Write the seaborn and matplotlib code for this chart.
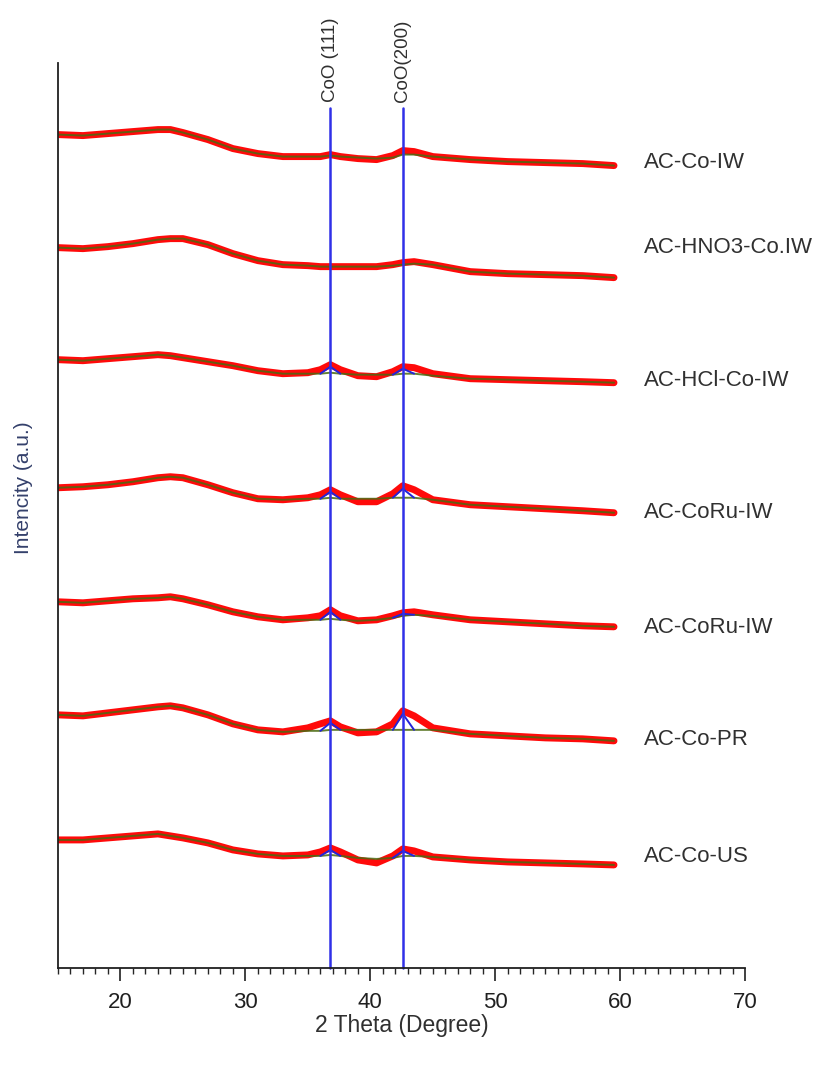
import matplotlib as mpl
import matplotlib.pyplot as plt
import pandas as pd
import seaborn as sns

two_theta = [15, 17, 19, 21, 23, 24, 25, 27, 29, 31, 33, 35, 36, 36.8, 37.6,
             39, 40.5, 41.8, 42.6, 43.5, 45, 48, 51, 54, 57, 59.5]

samples = ["AC-Co-IW", "AC-HNO3-Co.IW", "AC-HCl-Co-IW", "AC-CoRu-IW",
           "AC-CoRu-IW", "AC-Co-PR", "AC-Co-US"]

# measured (red) patterns, already stacked (a.u.)
measured = [
    [833, 832, 834, 836, 838, 838, 835, 828, 819, 814, 811, 811, 811, 813, 811,
     809, 808, 812, 817, 816, 811, 808, 806, 805, 804, 802],
    [720, 719, 721, 724, 728, 729, 729, 723, 714, 707, 703, 702, 701, 701, 701,
     701, 701, 703, 705, 706, 703, 696, 694, 693, 692, 690],
    [608, 607, 609, 611, 613, 612, 610, 606, 602, 597, 594, 595, 598, 603, 598,
     592, 591, 596, 601, 600, 594, 589, 588, 587, 586, 585],
    [480, 481, 483, 486, 490, 491, 490, 483, 475, 469, 468, 470, 473, 478, 473,
     466, 466, 474, 482, 478, 468, 463, 461, 459, 457, 455],
    [366, 365, 367, 369, 370, 371, 369, 363, 356, 351, 348, 350, 352, 358, 352,
     347, 348, 352, 355, 356, 353, 348, 346, 344, 342, 341],
    [253, 252, 255, 258, 261, 262, 260, 253, 244, 238, 236, 240, 244, 247, 241,
     235, 236, 244, 257, 252, 240, 234, 232, 230, 229, 227],
    [128, 128, 130, 132, 134, 132, 130, 125, 118, 114, 112, 113, 116, 120, 116,
     108, 105, 112, 119, 117, 111, 108, 106, 105, 104, 103],
]

# fitted background (green)
background = [
    [833, 832, 834, 836, 838, 838, 835, 828, 819, 814, 811, 811, 811, 812, 811,
     810, 809, 810, 813, 813, 811, 808, 806, 805, 804, 802],
    [720, 719, 721, 724, 728, 729, 729, 723, 714, 707, 703, 702, 701, 701, 701,
     701, 701, 702, 703, 704, 703, 696, 694, 693, 692, 690],
    [608, 607, 609, 611, 613, 612, 610, 606, 602, 597, 594, 594, 594, 595, 594,
     593, 593, 593, 594, 594, 592, 589, 588, 587, 586, 585],
    [480, 481, 483, 486, 490, 491, 490, 483, 475, 469, 468, 469, 469, 470, 469,
     469, 469, 470, 470, 470, 468, 463, 461, 459, 457, 455],
    [366, 365, 367, 369, 370, 371, 369, 363, 356, 351, 348, 348, 348, 349, 348,
     347, 348, 350, 352, 353, 352, 348, 346, 344, 342, 341],
    [253, 252, 255, 258, 261, 262, 260, 253, 244, 238, 236, 237, 237, 238, 238,
     238, 238, 238, 238, 238, 238, 234, 232, 230, 229, 227],
    [128, 128, 130, 132, 134, 132, 130, 125, 118, 114, 112, 112, 112, 113, 112,
     110, 109, 110, 112, 112, 111, 108, 106, 105, 104, 103],
]

# fitted CoO peaks (blue): 2 theta and top of each fitted peak
peak_pos = [36.8, 42.6]
peak_names = ["CoO (111)", "CoO(200)"]
peak_111 = [None, None, 601, 476, 356, 245, 118]
peak_200 = [None, None, 599, 479, 354, 254, 117]

label_y = [805, 720, 587, 455, 340, 228, 111]

sns.set_theme(style="white")
plt.rcParams["font.family"] = ["Liberation Sans", "DejaVu Sans"]

fig = plt.figure(figsize=(8.28, 10.69), dpi=100)
ax = fig.add_axes([0.070, 0.0945, 0.830, 0.847])

for i, name in enumerate(samples):
    df = pd.DataFrame({"x": two_theta, "y": measured[i], "bg": background[i]})
    sns.lineplot(data=df, x="x", y="y", ax=ax, color="#ff0a0a", lw=5.0,
                 solid_joinstyle="round", solid_capstyle="round")
    sns.lineplot(data=df, x="x", y="bg", ax=ax, color="#4a6a10", lw=1.4,
                 alpha=0.85)
    # blue peak fits
    for pos, top in zip(peak_pos, [peak_111[i], peak_200[i]]):
        if top is None:
            continue
        k = two_theta.index(pos)
        xs = [two_theta[k - 1], pos, two_theta[k + 1]]
        ys = [background[i][k - 1], top, background[i][k + 1]]
        ax.plot(xs, ys, color="#2424d8", lw=1.4)
    ax.text(61.9, label_y[i], name, fontsize=16, color="#303030",
            ha="left", va="center", clip_on=False)

# reference lines for CoO
for pos, txt in zip(peak_pos, peak_names):
    ax.plot([pos, pos], [0, 860], color="#3030e8", lw=1.8, clip_on=False)
    ax.text(pos, 866, txt, rotation=90, fontsize=13.5, color="#303030",
            ha="center", va="bottom", clip_on=False)

ax.set_xlim(15, 70)
ax.set_ylim(0, 905)
ax.set_yticks([])
ax.xaxis.set_major_locator(mpl.ticker.MultipleLocator(10))
ax.xaxis.set_minor_locator(mpl.ticker.MultipleLocator(1))
ax.tick_params(axis="x", which="major", direction="out", length=9, width=1.2,
               labelsize=16, pad=8, colors="#202020", bottom=True)
ax.tick_params(axis="x", which="minor", direction="out", length=4, width=1.0,
               bottom=True)

for side in ["top", "right"]:
    ax.spines[side].set_visible(False)
for side in ["left", "bottom"]:
    ax.spines[side].set_color("#202020")
    ax.spines[side].set_linewidth(1.3)

ax.set_xlabel("2 Theta (Degree)", fontsize=16.5, color="#303030", labelpad=1)
ax.set_ylabel("Intencity (a.u.)", fontsize=15, color="#34406b")
ax.yaxis.set_label_coords(-0.037, 0.53)

plt.savefig("out.png", dpi=100)
